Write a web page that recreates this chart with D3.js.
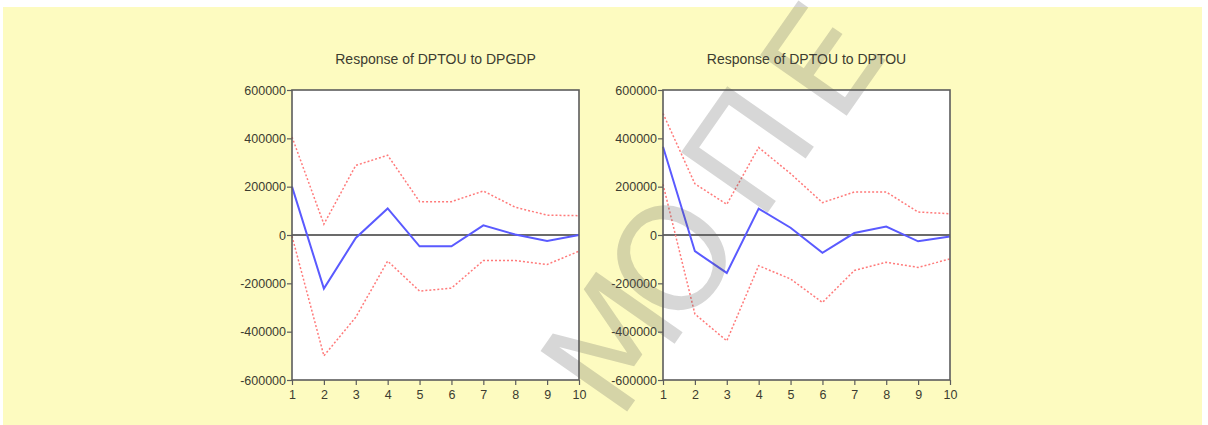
<!DOCTYPE html>
<html>
<head>
<meta charset="utf-8">
<script src="https://cdn.jsdelivr.net/npm/d3@7"></script>
<style>
  body { margin: 0; background: #ffffff; }
  svg { display: block; font-family: "Liberation Sans", Arial, sans-serif; }
</style>
</head>
<body>
<div id="chart"></div>
<script>
const svgWidth = 1208
const svgHeight = 425

// impulse response periods
const periods = [1, 2, 3, 4, 5, 6, 7, 8, 9, 10]
const yTicks = [-600000, -400000, -200000, 0, 200000, 400000, 600000]

// Response of DPTOU to DPGDP
const gdpResponse = [200000, -222000, -12000, 110000, -47000, -47000, 40000, 2000, -25000, 0]
const gdpUpper = [406000, 45000, 288000, 330000, 138000, 138000, 182000, 115000, 82000, 80000]
const gdpLower = [-5000, -500000, -340000, -108000, -232000, -220000, -106000, -106000, -122000, -67000]

// Response of DPTOU to DPTOU
const touResponse = [365000, -67000, -157000, 109000, 30000, -74000, 8000, 35000, -26000, -6000]
const touUpper = [503000, 212000, 127000, 362000, 254000, 134000, 178000, 178000, 95000, 88000]
const touLower = [210000, -327000, -438000, -127000, -182000, -279000, -147000, -113000, -134000, -99000]

const titles = ["Response of DPTOU to DPGDP", "Response of DPTOU to DPTOU"]

// watermark letters
const watermark = ["Μ", "Ο", "Π", "Ε"]

var svg = d3.select("#chart").append("svg")
  .attr("width", svgWidth)
  .attr("height", svgHeight)

// yellow page background
svg.append("rect")
  .attr("x", 3).attr("y", 7)
  .attr("width", 1199).attr("height", 418)
  .attr("fill", "#fdfbc0")

function renderPanel(left, title, resp, upper, lower) {
  var w = 287, h = 290, top = 90

  var x = d3.scaleLinear().domain([1, 10]).range([0, w])
  var y = d3.scaleLinear().domain([-600000, 600000]).range([h, 0])

  var g = svg.append("g").attr("transform", "translate(" + left + "," + top + ")")

  g.append("rect")
    .attr("width", w).attr("height", h)
    .attr("fill", "#ffffff")

  var line = d3.line()
    .x(function(d, i) { return x(periods[i]) })
    .y(function(d) { return y(d) })

  // zero line
  g.append("line")
    .attr("x1", 0).attr("x2", w)
    .attr("y1", y(0)).attr("y2", y(0))
    .attr("stroke", "#3a3a3a").attr("stroke-width", 1.6)

  // +/- 2 s.e. bands
  ;[upper, lower].forEach(function(band) {
    g.append("path")
      .datum(band)
      .attr("d", line)
      .attr("fill", "none")
      .attr("stroke", "#ff7a7a")
      .attr("stroke-width", 1.5)
      .attr("stroke-dasharray", "2,2")
  })

  g.append("path")
    .datum(resp)
    .attr("d", line)
    .attr("fill", "none")
    .attr("stroke", "#5a5aff")
    .attr("stroke-width", 2)

  // frame
  g.append("rect")
    .attr("width", w).attr("height", h)
    .attr("fill", "none")
    .attr("stroke", "#5c5c5c").attr("stroke-width", 1.6)

  var yAxis = d3.axisLeft(y).tickValues(yTicks).tickSize(5).tickPadding(1)
    .tickFormat(function(d) { return String(d) })
  var xAxis = d3.axisBottom(x).tickValues(periods).tickSize(5).tickPadding(5)
    .tickFormat(function(d) { return String(d) })

  var ya = g.append("g").call(yAxis)
  var xa = g.append("g").attr("transform", "translate(0," + h + ")").call(xAxis)

  ;[ya, xa].forEach(function(a) {
    a.select(".domain").remove()
    a.selectAll("line").attr("stroke", "#5c5c5c").attr("stroke-width", 1.2)
    a.selectAll("text")
      .attr("fill", "#3c3c30")
      .style("font-size", "12.5px")
      .style("font-family", "'Liberation Sans', Arial, sans-serif")
  })

  g.append("text")
    .attr("x", w / 2).attr("y", -26)
    .attr("text-anchor", "middle")
    .attr("fill", "#3c3c30")
    .style("font-size", "14px")
    .text(title)
}

renderPanel(292, titles[0], gdpResponse, gdpUpper, gdpLower)
renderPanel(663, titles[1], touResponse, touUpper, touLower)

// diagonal watermark, one letter at a time along the diagonal
var wmCenters = [[612, 342], [672, 258], [748, 150], [822, 60]]
svg.append("g")
  .attr("fill", "#5a5a5a")
  .attr("opacity", 0.24)
  .style("font-family", "'DejaVu Sans', sans-serif")
  .style("font-size", "145px")
  .selectAll("text")
  .data(watermark)
  .enter().append("text")
  .attr("transform", function(d, i) {
    return "translate(" + wmCenters[i][0] + "," + wmCenters[i][1] + ") rotate(-55)"
  })
  .attr("text-anchor", "middle")
  .attr("dy", "0.36em")
  .text(function(d) { return d })
</script>
</body>
</html>
